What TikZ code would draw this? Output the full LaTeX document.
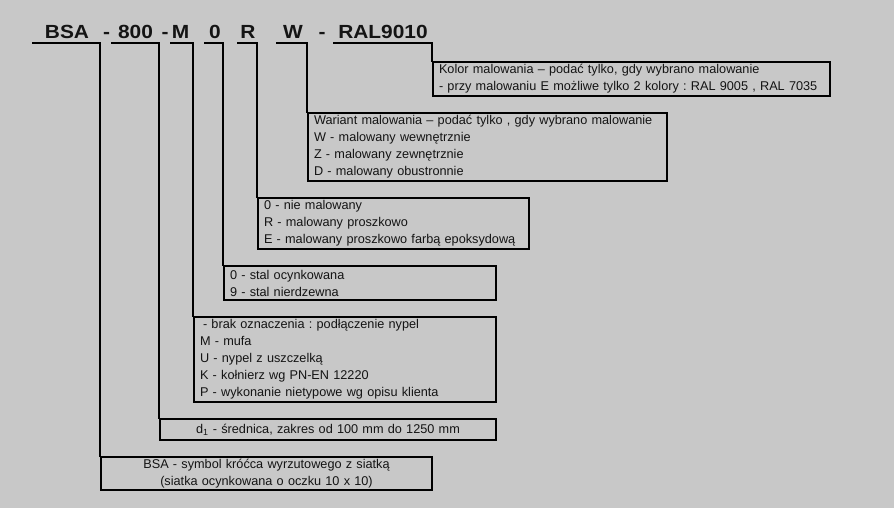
\documentclass[tikz,border=0pt]{standalone}
\usepackage{fontspec}
\setmainfont{Liberation Sans}
\newfontfamily\hdrfont[FakeStretch=1.1]{Liberation Sans}
\definecolor{bg}{RGB}{200,200,200}
\definecolor{ink}{RGB}{20,20,20}
\frenchspacing
\begin{document}
\begin{tikzpicture}[x=1pt,y=-1pt,
  box/.style={draw=black, line width=2pt, anchor=north west, inner xsep=6pt, inner ysep=0pt,
    align=left, text=ink, font=\fontsize{12.7}{17}\selectfont\frenchspacing},
  cbox/.style={box, align=center},
  hdr/.style={font=\hdrfont\bfseries\fontsize{19}{20}\selectfont, anchor=base, inner sep=0pt, text=ink},
  lnk/.style={line width=2pt, line cap=rect}]
\fill[bg] (0,0) rectangle (894,508);
\useasboundingbox (0,0) rectangle (894,508);
% header
\node[hdr] (hBSA) at (67,39) {BSA};
\node[hdr] (hd1) at (106.5,39) {-};
\node[hdr] (h800) at (135.5,39) {800};
\node[hdr] (hd2) at (165,39) {-};
\node[hdr] (hM) at (180.5,39) {M};
\node[hdr] (h0) at (215,39) {0};
\node[hdr] (hR) at (248,39) {R};
\node[hdr] (hW) at (293,39) {W};
\node[hdr] (hd3) at (322,39) {-};
\node[hdr] (hRAL) at (383,39) {RAL9010};
% underline start points
\coordinate (uBSA) at (33,43);
\coordinate (u800) at (112,43);
\coordinate (uM) at (171,43);
\coordinate (u0) at (205,43);
\coordinate (uR) at (238,43);
\coordinate (uW) at (277,43);
\coordinate (uRAL) at (334,43);
% boxes
\node[box, text width=385pt, minimum height=34pt] (bRAL) at (432,61)
  {Kolor malowania – podać tylko, gdy wybrano malowanie\\- przy malowaniu E możliwe tylko 2 kolory : RAL 9005 , RAL 7035};
\node[box, text width=347pt, minimum height=68pt] (bW) at (307,112)
  {Wariant malowania – podać tylko , gdy wybrano malowanie\\W - malowany wewnętrznie\\Z - malowany zewnętrznie\\D - malowany obustronnie};
\node[box, text width=259pt, minimum height=51pt] (bR) at (257,197)
  {0 - nie malowany\\R - malowany proszkowo\\E - malowany proszkowo farbą epoksydową};
\node[box, text width=260pt, minimum height=34pt] (b0) at (223,265)
  {0 - stal ocynkowana\\9 - stal nierdzewna};
\node[box, text width=290pt, minimum height=85pt] (bM) at (193,316)
  {\hspace*{3pt}- brak oznaczenia : podłączenie nypel\\M - mufa\\U - nypel z uszczelką\\K - kołnierz wg PN-EN 12220\\P - wykonanie nietypowe wg opisu klienta};
\node[cbox, text width=324pt, minimum height=21pt] (b800) at (159,418)
  {d\textsubscript{1} - średnica, zakres od 100 mm do 1250 mm};
\node[cbox, text width=319pt, minimum height=33pt] (bBSA) at (100,456)
  {BSA - symbol króćca wyrzutowego z siatką\\(siatka ocynkowana o oczku 10 x 10)};
% connectors
\draw[lnk] (uBSA) -| (bBSA.north west);
\draw[lnk] (u800) -| (b800.north west);
\draw[lnk] (uM) -| (bM.north west);
\draw[lnk] (u0) -| (b0.north west);
\draw[lnk] (uR) -| (bR.north west);
\draw[lnk] (uW) -| (bW.north west);
\draw[lnk] (uRAL) -| (bRAL.north west);
\end{tikzpicture}
\end{document}
